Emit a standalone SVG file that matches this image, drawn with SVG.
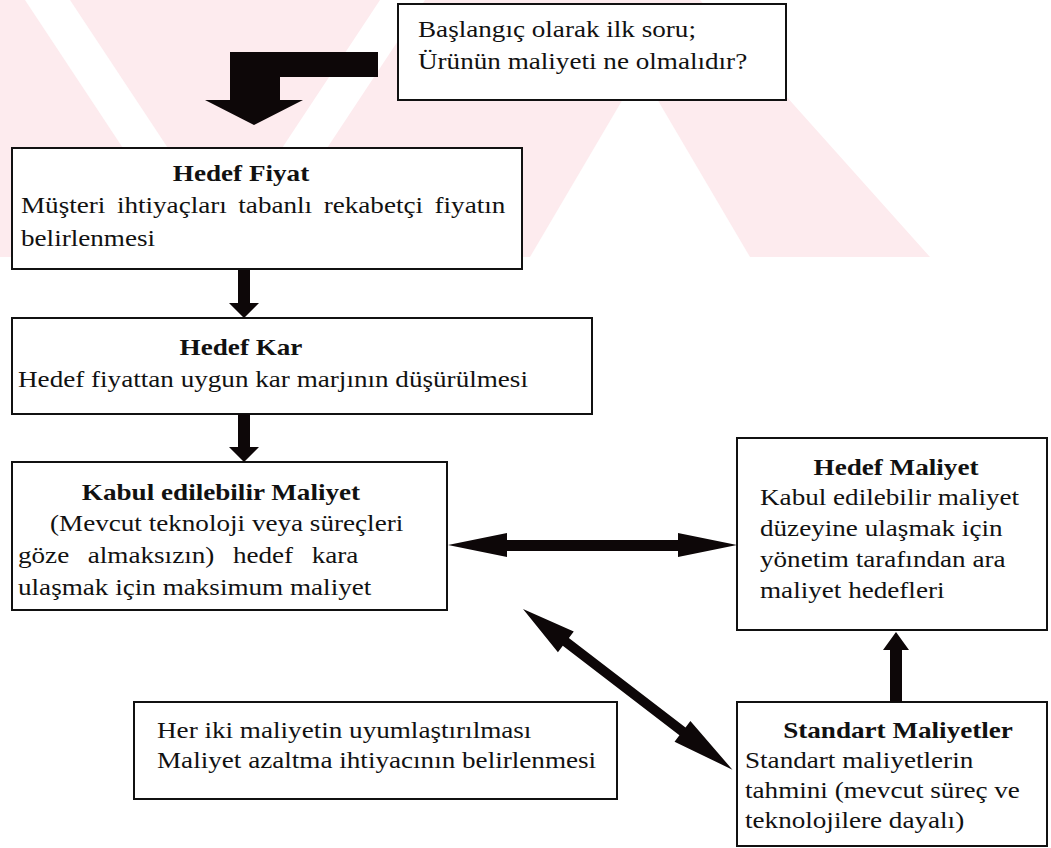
<svg xmlns="http://www.w3.org/2000/svg" width="1051" height="848" viewBox="0 0 1051 848">
  <style>
    .box { fill: #ffffff; stroke: #111111; stroke-width: 2; }
    .t { font-family: "Times New Roman", "Liberation Serif", Tinos, "DejaVu Serif", serif; font-size: 23px; font-weight: 400; fill: #111111; }
    .b { font-weight: 700; text-anchor: middle; }
    .arrow { fill: #0d0708; }
    .mark { fill: #fdebee; }
    .gap { fill: #ffffff; }
  </style>
  <rect width="1051" height="848" fill="#ffffff"/>

  <!-- faint background emblem: pale bands with white diagonal gaps -->
  <g id="emblem">
    <polygon class="mark" points="0,0 700,0 930,257 0,257"/>
    <polygon class="gap" points="25,0 70,0 240,257 195,257"/>
    <polygon class="gap" points="380,0 425,0 255,257 210,257"/>
    <polygon class="gap" points="640,70 750,257 530,257"/>
  </g>

  <!-- text is set in a horizontally widened serif face -->
  <g id="start">
    <rect class="box" x="398" y="4" width="388" height="96"/>
    <text class="t" transform="translate(418,37) scale(1.18,1)">Başlangıç olarak ilk soru;</text>
    <text class="t" transform="translate(418,69) scale(1.18,1)">Ürünün maliyeti ne olmalıdır?</text>
  </g>

  <g id="hedef-fiyat">
    <rect class="box" x="12" y="148" width="510" height="121"/>
    <text class="t b" transform="translate(241,181) scale(1.18,1)">Hedef Fiyat</text>
    <text class="t" transform="translate(21,213) scale(1.18,1)" word-spacing="4">Müşteri ihtiyaçları tabanlı rekabetçi fiyatın</text>
    <text class="t" transform="translate(21,246) scale(1.18,1)">belirlenmesi</text>
  </g>

  <g id="hedef-kar">
    <rect class="box" x="12" y="318" width="580" height="96"/>
    <text class="t b" transform="translate(241,355) scale(1.18,1)">Hedef Kar</text>
    <text class="t" transform="translate(18,387) scale(1.18,1)">Hedef fiyattan uygun kar marjının düşürülmesi</text>
  </g>

  <g id="kabul">
    <rect class="box" x="12" y="462" width="435" height="148"/>
    <text class="t b" transform="translate(221,500) scale(1.18,1)">Kabul edilebilir Maliyet</text>
    <text class="t" transform="translate(50,531) scale(1.18,1)">(Mevcut teknoloji veya süreçleri</text>
    <text class="t" transform="translate(18,563) scale(1.18,1)" word-spacing="10">göze almaksızın) hedef kara</text>
    <text class="t" transform="translate(18,595) scale(1.18,1)">ulaşmak için maksimum maliyet</text>
  </g>

  <g id="hedef-maliyet">
    <rect class="box" x="737" y="438" width="310" height="192"/>
    <text class="t b" transform="translate(896,475) scale(1.18,1)">Hedef Maliyet</text>
    <text class="t" transform="translate(760,505) scale(1.18,1)">Kabul edilebilir maliyet</text>
    <text class="t" transform="translate(760,536) scale(1.18,1)">düzeyine ulaşmak için</text>
    <text class="t" transform="translate(760,567) scale(1.18,1)">yönetim tarafından ara</text>
    <text class="t" transform="translate(760,598) scale(1.18,1)">maliyet hedefleri</text>
  </g>

  <g id="uyum">
    <rect class="box" x="134" y="702" width="483" height="97"/>
    <text class="t" transform="translate(157,738) scale(1.18,1)">Her iki maliyetin uyumlaştırılması</text>
    <text class="t" transform="translate(157,768) scale(1.18,1)">Maliyet azaltma ihtiyacının belirlenmesi</text>
  </g>

  <g id="standart">
    <rect class="box" x="737" y="702" width="310" height="144"/>
    <text class="t b" transform="translate(898,738) scale(1.18,1)">Standart Maliyetler</text>
    <text class="t" transform="translate(745,768) scale(1.18,1)">Standart maliyetlerin</text>
    <text class="t" transform="translate(745,798) scale(1.18,1)">tahmini (mevcut süreç ve</text>
    <text class="t" transform="translate(745,828) scale(1.18,1)">teknolojilere dayalı)</text>
  </g>

  <g id="connectors" class="arrow">
    <!-- elbow block arrow from the opening question -->
    <polygon points="230,52 378,52 378,77 280,77 280,100 303,100 254,125 205,100 230,100"/>
    <!-- Hedef Fiyat to Hedef Kar -->
    <polygon points="238,270 250,270 250,303 259,303 244,318 229,303 238,303"/>
    <!-- Hedef Kar to Kabul -->
    <polygon points="238,414 250,414 250,447 259,447 244,462 229,447 238,447"/>
    <!-- Kabul and Hedef Maliyet, both ways -->
    <polygon points="448,545 507,533 507,540 678,540 678,533 737,545 678,557 678,551 507,551 507,557"/>
    <!-- Standart Maliyetler up to Hedef Maliyet -->
    <polygon points="890,702 902,702 902,650 909,650 896,632 883,650 890,650"/>
    <!-- Kabul and Standart Maliyetler, both ways -->
    <g transform="translate(523,609) rotate(37.5)">
      <polygon points="0,0 54,-13 54,-5 201,-5 201,-13 264,0 201,13 201,5 54,5 54,13"/>
    </g>
  </g>
</svg>
